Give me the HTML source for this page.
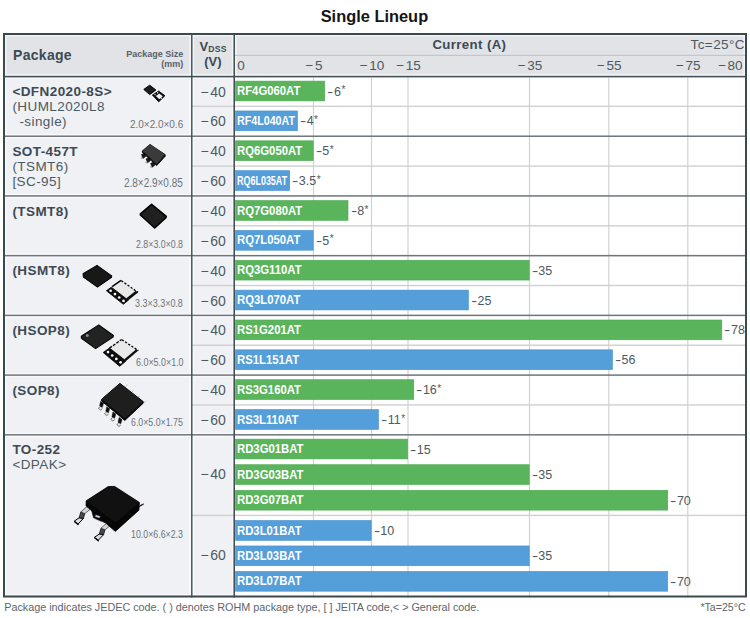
<!DOCTYPE html>
<html><head><meta charset="utf-8"><style>
html,body{margin:0;padding:0;background:#fff;}
body{width:750px;height:618px;position:relative;overflow:hidden;font-family:"Liberation Sans",Arial,sans-serif;}
body>div{position:absolute;}
.t{white-space:nowrap;}
.hy{display:inline-block;transform:scaleX(1.5);margin:0 1.4px 0 1.1px;}
.ast{font-size:10px;position:relative;top:-2.4px;margin-left:0.5px;}
svg{position:absolute;}
</style></head><body>
<svg width="750" height="618" viewBox="0 0 750 618" style="left:0;top:0;">
<rect x="3.00" y="33.00" width="744.00" height="43.50" fill="#e1e3e6" />
<rect x="3.00" y="76.50" width="231.20" height="521.00" fill="#f0f1f4" />
<rect x="234.20" y="76.50" width="512.80" height="521.00" fill="#ffffff" />
<rect x="5.00" y="35.00" width="740.00" height="1.40" fill="rgba(255,255,255,0.6)" />
<rect x="5.00" y="35.00" width="1.60" height="560.50" fill="rgba(255,255,255,0.6)" />
<rect x="743.40" y="35.00" width="1.60" height="41.50" fill="rgba(255,255,255,0.6)" />
<rect x="5.00" y="74.10" width="740.00" height="4.80" fill="rgba(255,255,255,0.6)" />
<rect x="189.40" y="35.00" width="4.80" height="560.50" fill="rgba(255,255,255,0.6)" />
<rect x="231.80" y="35.00" width="4.80" height="560.50" fill="rgba(255,255,255,0.6)" />
<rect x="5.00" y="134.02" width="229.20" height="4.40" fill="rgba(255,255,255,0.6)" />
<rect x="5.00" y="193.74" width="229.20" height="4.40" fill="rgba(255,255,255,0.6)" />
<rect x="5.00" y="253.46" width="229.20" height="4.40" fill="rgba(255,255,255,0.6)" />
<rect x="5.00" y="313.18" width="229.20" height="4.40" fill="rgba(255,255,255,0.6)" />
<rect x="5.00" y="372.90" width="229.20" height="4.40" fill="rgba(255,255,255,0.6)" />
<rect x="5.00" y="432.62" width="229.20" height="4.40" fill="rgba(255,255,255,0.6)" />
<rect x="5.00" y="593.90" width="229.20" height="1.60" fill="rgba(255,255,255,0.6)" />
<rect x="234.20" y="54.80" width="512.80" height="1.20" fill="#c4c7ca" />
<rect x="312.90" y="77.50" width="1.20" height="520.00" fill="#d2d2d2" />
<rect x="370.90" y="77.50" width="1.20" height="520.00" fill="#d2d2d2" />
<rect x="407.40" y="77.50" width="1.20" height="520.00" fill="#d2d2d2" />
<rect x="528.90" y="77.50" width="1.20" height="520.00" fill="#d2d2d2" />
<rect x="608.20" y="77.50" width="1.20" height="520.00" fill="#d2d2d2" />
<rect x="687.20" y="77.50" width="1.20" height="520.00" fill="#d2d2d2" />
<rect x="191.80" y="105.66" width="555.20" height="1.40" fill="#d0d0d0" />
<rect x="191.80" y="165.38" width="555.20" height="1.40" fill="#d0d0d0" />
<rect x="191.80" y="225.10" width="555.20" height="1.40" fill="#d0d0d0" />
<rect x="191.80" y="284.82" width="555.20" height="1.40" fill="#d0d0d0" />
<rect x="191.80" y="344.54" width="555.20" height="1.40" fill="#d0d0d0" />
<rect x="191.80" y="404.26" width="555.20" height="1.40" fill="#d0d0d0" />
<rect x="191.80" y="514.70" width="555.20" height="1.40" fill="#d0d0d0" />
<rect x="3.00" y="135.47" width="744.00" height="1.50" fill="#6e767c" />
<rect x="3.00" y="195.19" width="744.00" height="1.50" fill="#6e767c" />
<rect x="3.00" y="254.91" width="744.00" height="1.50" fill="#6e767c" />
<rect x="3.00" y="314.63" width="744.00" height="1.50" fill="#6e767c" />
<rect x="3.00" y="374.35" width="744.00" height="1.50" fill="#6e767c" />
<rect x="3.00" y="434.07" width="744.00" height="1.50" fill="#6e767c" />
<rect x="3.00" y="75.80" width="744.00" height="1.60" fill="#46525a" />
<rect x="191.10" y="33.00" width="1.40" height="564.50" fill="#3a4a4e" />
<rect x="233.45" y="33.00" width="1.50" height="564.50" fill="#3a4a4e" />
<rect x="4" y="34" width="742" height="562.5" fill="none" stroke="#3a4a4e" stroke-width="2"/>
<rect x="235.50" y="81.10" width="89.30" height="19.80" fill="#5ab45c" stroke="#4ea851" stroke-width="0.6"/>
<rect x="235.50" y="110.96" width="62.00" height="19.80" fill="#549eda" stroke="#4790ce" stroke-width="0.6"/>
<rect x="235.50" y="140.82" width="77.70" height="19.80" fill="#5ab45c" stroke="#4ea851" stroke-width="0.6"/>
<rect x="235.50" y="170.68" width="54.15" height="19.80" fill="#549eda" stroke="#4790ce" stroke-width="0.6"/>
<rect x="235.50" y="200.54" width="112.50" height="19.80" fill="#5ab45c" stroke="#4ea851" stroke-width="0.6"/>
<rect x="235.50" y="230.40" width="77.70" height="19.80" fill="#549eda" stroke="#4790ce" stroke-width="0.6"/>
<rect x="235.50" y="260.26" width="293.70" height="19.80" fill="#5ab45c" stroke="#4ea851" stroke-width="0.6"/>
<rect x="235.50" y="290.12" width="232.95" height="19.80" fill="#549eda" stroke="#4790ce" stroke-width="0.6"/>
<rect x="235.50" y="319.98" width="486.32" height="19.80" fill="#5ab45c" stroke="#4ea851" stroke-width="0.6"/>
<rect x="235.50" y="349.84" width="376.95" height="19.80" fill="#549eda" stroke="#4790ce" stroke-width="0.6"/>
<rect x="235.50" y="379.70" width="178.28" height="19.80" fill="#5ab45c" stroke="#4ea851" stroke-width="0.6"/>
<rect x="235.50" y="409.56" width="143.00" height="19.80" fill="#549eda" stroke="#4790ce" stroke-width="0.6"/>
<rect x="235.50" y="439.12" width="172.20" height="19.80" fill="#5ab45c" stroke="#4ea851" stroke-width="0.6"/>
<rect x="235.50" y="464.72" width="293.70" height="19.80" fill="#5ab45c" stroke="#4ea851" stroke-width="0.6"/>
<rect x="235.50" y="490.32" width="432.25" height="19.80" fill="#5ab45c" stroke="#4ea851" stroke-width="0.6"/>
<rect x="235.50" y="520.50" width="135.70" height="19.80" fill="#549eda" stroke="#4790ce" stroke-width="0.6"/>
<rect x="235.50" y="545.95" width="293.70" height="19.80" fill="#549eda" stroke="#4790ce" stroke-width="0.6"/>
<rect x="235.50" y="571.40" width="432.25" height="19.80" fill="#549eda" stroke="#4790ce" stroke-width="0.6"/>
</svg>
<div class="t" style="top:84.19px;font-size:13.6px;line-height:13.6px;font-weight:700;color:#ffffff;left:237.39999999999998px;transform:scaleX(0.833);transform-origin:left center;">RF4G060AT</div>
<div class="t" style="top:85.52px;font-size:12.5px;line-height:12.5px;font-weight:400;color:#4d5962;left:327.3px;"><span class="hy">-</span>6<span class="ast">*</span></div>
<div class="t" style="top:114.05px;font-size:13.6px;line-height:13.6px;font-weight:700;color:#ffffff;left:237.39999999999998px;transform:scaleX(0.785790469648674);transform-origin:left center;">RF4L040AT</div>
<div class="t" style="top:115.38px;font-size:12.5px;line-height:12.5px;font-weight:400;color:#4d5962;left:300.0px;"><span class="hy">-</span>4<span class="ast">*</span></div>
<div class="t" style="top:84.58px;font-size:14px;line-height:14px;font-weight:400;color:#4d5962;left:13.199999999999989px;width:400px;text-align:center;">&minus;<span style="margin-left:1.6px">40</span></div>
<div class="t" style="top:114.44px;font-size:14px;line-height:14px;font-weight:400;color:#4d5962;left:13.199999999999989px;width:400px;text-align:center;">&minus;<span style="margin-left:1.6px">60</span></div>
<div class="t" style="top:143.91px;font-size:13.6px;line-height:13.6px;font-weight:700;color:#ffffff;left:237.39999999999998px;transform:scaleX(0.833);transform-origin:left center;">RQ6G050AT</div>
<div class="t" style="top:145.24px;font-size:12.5px;line-height:12.5px;font-weight:400;color:#4d5962;left:315.7px;"><span class="hy">-</span>5<span class="ast">*</span></div>
<div class="t" style="top:173.77px;font-size:13.6px;line-height:13.6px;font-weight:700;color:#ffffff;left:237.39999999999998px;transform:scaleX(0.6591571168020826);transform-origin:left center;">RQ6L035AT</div>
<div class="t" style="top:175.10px;font-size:12.5px;line-height:12.5px;font-weight:400;color:#4d5962;left:292.15px;"><span class="hy">-</span>3.5<span class="ast">*</span></div>
<div class="t" style="top:144.30px;font-size:14px;line-height:14px;font-weight:400;color:#4d5962;left:13.199999999999989px;width:400px;text-align:center;">&minus;<span style="margin-left:1.6px">40</span></div>
<div class="t" style="top:174.16px;font-size:14px;line-height:14px;font-weight:400;color:#4d5962;left:13.199999999999989px;width:400px;text-align:center;">&minus;<span style="margin-left:1.6px">60</span></div>
<div class="t" style="top:203.63px;font-size:13.6px;line-height:13.6px;font-weight:700;color:#ffffff;left:237.39999999999998px;transform:scaleX(0.833);transform-origin:left center;">RQ7G080AT</div>
<div class="t" style="top:204.96px;font-size:12.5px;line-height:12.5px;font-weight:400;color:#4d5962;left:350.5px;"><span class="hy">-</span>8<span class="ast">*</span></div>
<div class="t" style="top:233.49px;font-size:13.6px;line-height:13.6px;font-weight:700;color:#ffffff;left:237.39999999999998px;transform:scaleX(0.833);transform-origin:left center;">RQ7L050AT</div>
<div class="t" style="top:234.82px;font-size:12.5px;line-height:12.5px;font-weight:400;color:#4d5962;left:315.7px;"><span class="hy">-</span>5<span class="ast">*</span></div>
<div class="t" style="top:204.02px;font-size:14px;line-height:14px;font-weight:400;color:#4d5962;left:13.199999999999989px;width:400px;text-align:center;">&minus;<span style="margin-left:1.6px">40</span></div>
<div class="t" style="top:233.88px;font-size:14px;line-height:14px;font-weight:400;color:#4d5962;left:13.199999999999989px;width:400px;text-align:center;">&minus;<span style="margin-left:1.6px">60</span></div>
<div class="t" style="top:263.35px;font-size:13.6px;line-height:13.6px;font-weight:700;color:#ffffff;left:237.39999999999998px;transform:scaleX(0.833);transform-origin:left center;">RQ3G110AT</div>
<div class="t" style="top:264.68px;font-size:12.5px;line-height:12.5px;font-weight:400;color:#4d5962;left:531.7px;"><span class="hy">-</span>35</div>
<div class="t" style="top:293.21px;font-size:13.6px;line-height:13.6px;font-weight:700;color:#ffffff;left:237.39999999999998px;transform:scaleX(0.833);transform-origin:left center;">RQ3L070AT</div>
<div class="t" style="top:294.54px;font-size:12.5px;line-height:12.5px;font-weight:400;color:#4d5962;left:470.95px;"><span class="hy">-</span>25</div>
<div class="t" style="top:263.74px;font-size:14px;line-height:14px;font-weight:400;color:#4d5962;left:13.199999999999989px;width:400px;text-align:center;">&minus;<span style="margin-left:1.6px">40</span></div>
<div class="t" style="top:293.60px;font-size:14px;line-height:14px;font-weight:400;color:#4d5962;left:13.199999999999989px;width:400px;text-align:center;">&minus;<span style="margin-left:1.6px">60</span></div>
<div class="t" style="top:323.07px;font-size:13.6px;line-height:13.6px;font-weight:700;color:#ffffff;left:237.39999999999998px;transform:scaleX(0.8329999999999999);transform-origin:left center;">RS1G201AT</div>
<div class="t" style="top:324.40px;font-size:12.5px;line-height:12.5px;font-weight:400;color:#4d5962;left:724.32px;"><span class="hy">-</span>78</div>
<div class="t" style="top:352.93px;font-size:13.6px;line-height:13.6px;font-weight:700;color:#ffffff;left:237.39999999999998px;transform:scaleX(0.833);transform-origin:left center;">RS1L151AT</div>
<div class="t" style="top:354.26px;font-size:12.5px;line-height:12.5px;font-weight:400;color:#4d5962;left:614.95px;"><span class="hy">-</span>56</div>
<div class="t" style="top:323.46px;font-size:14px;line-height:14px;font-weight:400;color:#4d5962;left:13.199999999999989px;width:400px;text-align:center;">&minus;<span style="margin-left:1.6px">40</span></div>
<div class="t" style="top:353.32px;font-size:14px;line-height:14px;font-weight:400;color:#4d5962;left:13.199999999999989px;width:400px;text-align:center;">&minus;<span style="margin-left:1.6px">60</span></div>
<div class="t" style="top:382.79px;font-size:13.6px;line-height:13.6px;font-weight:700;color:#ffffff;left:237.39999999999998px;transform:scaleX(0.8329999999999999);transform-origin:left center;">RS3G160AT</div>
<div class="t" style="top:384.12px;font-size:12.5px;line-height:12.5px;font-weight:400;color:#4d5962;left:416.275px;"><span class="hy">-</span>16<span class="ast">*</span></div>
<div class="t" style="top:412.65px;font-size:13.6px;line-height:13.6px;font-weight:700;color:#ffffff;left:237.39999999999998px;transform:scaleX(0.833);transform-origin:left center;">RS3L110AT</div>
<div class="t" style="top:413.98px;font-size:12.5px;line-height:12.5px;font-weight:400;color:#4d5962;left:381.0px;"><span class="hy">-</span>11<span class="ast">*</span></div>
<div class="t" style="top:383.18px;font-size:14px;line-height:14px;font-weight:400;color:#4d5962;left:13.199999999999989px;width:400px;text-align:center;">&minus;<span style="margin-left:1.6px">40</span></div>
<div class="t" style="top:413.04px;font-size:14px;line-height:14px;font-weight:400;color:#4d5962;left:13.199999999999989px;width:400px;text-align:center;">&minus;<span style="margin-left:1.6px">60</span></div>
<div class="t" style="top:442.21px;font-size:13.6px;line-height:13.6px;font-weight:700;color:#ffffff;left:237.39999999999998px;transform:scaleX(0.833);transform-origin:left center;">RD3G01BAT</div>
<div class="t" style="top:443.54px;font-size:12.5px;line-height:12.5px;font-weight:400;color:#4d5962;left:410.2px;"><span class="hy">-</span>15</div>
<div class="t" style="top:467.81px;font-size:13.6px;line-height:13.6px;font-weight:700;color:#ffffff;left:237.39999999999998px;transform:scaleX(0.833);transform-origin:left center;">RD3G03BAT</div>
<div class="t" style="top:469.14px;font-size:12.5px;line-height:12.5px;font-weight:400;color:#4d5962;left:531.7px;"><span class="hy">-</span>35</div>
<div class="t" style="top:493.41px;font-size:13.6px;line-height:13.6px;font-weight:700;color:#ffffff;left:237.39999999999998px;transform:scaleX(0.833);transform-origin:left center;">RD3G07BAT</div>
<div class="t" style="top:494.74px;font-size:12.5px;line-height:12.5px;font-weight:400;color:#4d5962;left:670.25px;"><span class="hy">-</span>70</div>
<div class="t" style="top:523.59px;font-size:13.6px;line-height:13.6px;font-weight:700;color:#ffffff;left:237.39999999999998px;transform:scaleX(0.833);transform-origin:left center;">RD3L01BAT</div>
<div class="t" style="top:524.92px;font-size:12.5px;line-height:12.5px;font-weight:400;color:#4d5962;left:373.7px;"><span class="hy">-</span>10</div>
<div class="t" style="top:549.04px;font-size:13.6px;line-height:13.6px;font-weight:700;color:#ffffff;left:237.39999999999998px;transform:scaleX(0.833);transform-origin:left center;">RD3L03BAT</div>
<div class="t" style="top:550.37px;font-size:12.5px;line-height:12.5px;font-weight:400;color:#4d5962;left:531.7px;"><span class="hy">-</span>35</div>
<div class="t" style="top:574.49px;font-size:13.6px;line-height:13.6px;font-weight:700;color:#ffffff;left:237.39999999999998px;transform:scaleX(0.833);transform-origin:left center;">RD3L07BAT</div>
<div class="t" style="top:575.82px;font-size:12.5px;line-height:12.5px;font-weight:400;color:#4d5962;left:670.25px;"><span class="hy">-</span>70</div>
<div class="t" style="top:466.95px;font-size:14px;line-height:14px;font-weight:400;color:#4d5962;left:13.199999999999989px;width:400px;text-align:center;">&minus;<span style="margin-left:1.6px">40</span></div>
<div class="t" style="top:547.75px;font-size:14px;line-height:14px;font-weight:400;color:#4d5962;left:13.199999999999989px;width:400px;text-align:center;">&minus;<span style="margin-left:1.6px">60</span></div>
<div class="t" style="top:8.32px;font-size:16.4px;line-height:16.4px;font-weight:700;color:#151515;left:320.7px;">Single Lineup</div>
<div class="t" style="top:48.45px;font-size:14px;line-height:14px;font-weight:700;color:#3d4a54;letter-spacing:0.3px;left:13.0px;">Package</div>
<div class="t" style="top:49.88px;font-size:9px;line-height:9px;font-weight:700;color:#58626a;right:566.7px;">Package Size</div>
<div class="t" style="top:59.78px;font-size:9px;line-height:9px;font-weight:700;color:#58626a;right:566.7px;">(mm)</div>
<div class="t" style="left:199.5px;top:40.10px;font-size:13px;line-height:13px;font-weight:700;color:#3d4a54;">V<span style="font-size:8.6px;position:relative;top:1px;letter-spacing:0.3px">DSS</span></div>
<div class="t" style="top:55.40px;font-size:13px;line-height:13px;font-weight:700;color:#3d4a54;left:12.900000000000006px;width:400px;text-align:center;">(V)</div>
<div class="t" style="top:37.73px;font-size:13.2px;line-height:13.2px;font-weight:700;color:#3d4a54;letter-spacing:0.4px;left:432.4px;">Current (A)</div>
<div class="t" style="top:38.17px;font-size:13.5px;line-height:13.5px;font-weight:400;color:#4d5962;letter-spacing:0.4px;right:5.100000000000023px;">Tc=25°C</div>
<div class="t" style="top:58.77px;font-size:13.5px;line-height:13.5px;font-weight:400;color:#4d5962;left:237.3px;">0</div>
<div class="t" style="top:58.77px;font-size:13.5px;line-height:13.5px;font-weight:400;color:#4d5962;left:114.0px;width:400px;text-align:center;">&minus;<span style="margin-left:1.5px">5</span></div>
<div class="t" style="top:58.77px;font-size:13.5px;line-height:13.5px;font-weight:400;color:#4d5962;left:172.0px;width:400px;text-align:center;">&minus;<span style="margin-left:1.5px">10</span></div>
<div class="t" style="top:58.77px;font-size:13.5px;line-height:13.5px;font-weight:400;color:#4d5962;left:208.5px;width:400px;text-align:center;">&minus;<span style="margin-left:1.5px">15</span></div>
<div class="t" style="top:58.77px;font-size:13.5px;line-height:13.5px;font-weight:400;color:#4d5962;left:330.0px;width:400px;text-align:center;">&minus;<span style="margin-left:1.5px">35</span></div>
<div class="t" style="top:58.77px;font-size:13.5px;line-height:13.5px;font-weight:400;color:#4d5962;left:409.29999999999995px;width:400px;text-align:center;">&minus;<span style="margin-left:1.5px">55</span></div>
<div class="t" style="top:58.77px;font-size:13.5px;line-height:13.5px;font-weight:400;color:#4d5962;left:488.29999999999995px;width:400px;text-align:center;">&minus;<span style="margin-left:1.5px">75</span></div>
<div class="t" style="top:58.77px;font-size:13.5px;line-height:13.5px;font-weight:400;color:#4d5962;right:7.399999999999977px;">&minus;<span style="margin-left:1.5px">80</span></div>
<div class="t" style="top:85.07px;font-size:13.5px;line-height:13.5px;font-weight:700;color:#3d4a54;letter-spacing:0.42px;left:12.4px;">&lt;DFN2020-8S&gt;</div>
<div class="t" style="top:100.07px;font-size:13.5px;line-height:13.5px;font-weight:400;color:#4d5962;letter-spacing:0.42px;left:12.4px;">(HUML2020L8</div>
<div class="t" style="top:115.07px;font-size:13.5px;line-height:13.5px;font-weight:400;color:#4d5962;letter-spacing:0.42px;left:19.4px;">-single)</div>
<div class="t" style="top:144.79px;font-size:13.5px;line-height:13.5px;font-weight:700;color:#3d4a54;letter-spacing:0.42px;left:12.4px;">SOT-457T</div>
<div class="t" style="top:159.79px;font-size:13.5px;line-height:13.5px;font-weight:400;color:#4d5962;letter-spacing:0.42px;left:12.4px;">(TSMT6)</div>
<div class="t" style="top:174.79px;font-size:13.5px;line-height:13.5px;font-weight:400;color:#4d5962;letter-spacing:0.42px;left:12.4px;">[SC-95]</div>
<div class="t" style="top:204.51px;font-size:13.5px;line-height:13.5px;font-weight:700;color:#3d4a54;letter-spacing:0.42px;left:12.4px;">(TSMT8)</div>
<div class="t" style="top:264.23px;font-size:13.5px;line-height:13.5px;font-weight:700;color:#3d4a54;letter-spacing:0.42px;left:12.4px;">(HSMT8)</div>
<div class="t" style="top:323.95px;font-size:13.5px;line-height:13.5px;font-weight:700;color:#3d4a54;letter-spacing:0.42px;left:12.4px;">(HSOP8)</div>
<div class="t" style="top:383.67px;font-size:13.5px;line-height:13.5px;font-weight:700;color:#3d4a54;letter-spacing:0.42px;left:12.4px;">(SOP8)</div>
<div class="t" style="top:443.39px;font-size:13.5px;line-height:13.5px;font-weight:700;color:#3d4a54;letter-spacing:0.42px;left:12.4px;">TO-252</div>
<div class="t" style="top:458.39px;font-size:13.5px;line-height:13.5px;font-weight:400;color:#4d5962;letter-spacing:0.42px;left:12.4px;">&lt;DPAK&gt;</div>
<div class="t" style="top:117.90px;font-size:11.7px;line-height:11.7px;font-weight:400;color:#6b747b;left:130.20142993326976px;transform:scaleX(0.8522565243251614);transform-origin:left center;">2.0×2.0×0.6</div>
<div class="t" style="top:177.46px;font-size:12.1px;line-height:12.1px;font-weight:400;color:#6b747b;left:124.40129198966409px;transform:scaleX(0.8243107608858139);transform-origin:left center;">2.8×2.9×0.85</div>
<div class="t" style="top:238.59px;font-size:11px;line-height:11px;font-weight:400;color:#6b747b;left:136.25958055290752px;transform:scaleX(0.8007626310772167);transform-origin:left center;">2.8×3.0×0.8</div>
<div class="t" style="top:298.09px;font-size:11px;line-height:11px;font-weight:400;color:#6b747b;left:135.44148430066605px;transform:scaleX(0.8148084075771991);transform-origin:left center;">3.3×3.3×0.8</div>
<div class="t" style="top:357.26px;font-size:10.8px;line-height:10.8px;font-weight:400;color:#6b747b;left:135.65428571428572px;transform:scaleX(0.8253968253968255);transform-origin:left center;">6.0×5.0×1.0</div>
<div class="t" style="top:416.79px;font-size:11px;line-height:11px;font-weight:400;color:#6b747b;left:131.46072351421188px;transform:scaleX(0.7986845196147522);transform-origin:left center;">6.0×5.0×1.75</div>
<div class="t" style="top:529.41px;font-size:10.5px;line-height:10.5px;font-weight:400;color:#6b747b;left:131.0395328719723px;transform:scaleX(0.8386884165430879);transform-origin:left center;">10.0×6.6×2.3</div>
<div class="t" style="top:602.06px;font-size:10.8px;line-height:10.8px;font-weight:400;color:#5d666d;left:4.2px;">Package indicates JEDEC code. ( ) denotes ROHM package type, [ ] JEITA code,&lt; &gt; General code.</div>
<div class="t" style="top:602.23px;font-size:10.6px;line-height:10.6px;font-weight:400;color:#5d666d;right:4.399999999999977px;">*Ta=25°C</div>
<svg width="750" height="618" viewBox="0 0 750 618" style="left:0;top:0;">
<g stroke-linejoin="round">
<polygon points="149.70,85.20 155.90,90.00 149.70,94.60 143.80,89.40" fill="#1d1d1d" stroke="#000" stroke-width="1" stroke-linejoin="round"/>
<polygon points="152.40,95.00 158.70,101.80 164.90,95.70 158.70,91.10" fill="#0e0e0e" stroke="#000" stroke-width="0.9" stroke-linejoin="round"/>
<polygon points="155.86,95.90 159.31,99.34 162.73,96.16 159.31,93.39" fill="#f0f0f0" />
<circle cx="155.04" cy="94.57" r="0.7" fill="#e8e8e8"/>
<circle cx="157.68" cy="92.82" r="0.7" fill="#e8e8e8"/>
<circle cx="161.30" cy="98.29" r="0.7" fill="#e8e8e8"/>
<polygon points="141.40,154.60 144.40,153.00 145.80,156.40 143.00,158.40" fill="#1a1a1a" stroke="#000" stroke-width="0.5"/>
<polygon points="141.20,157.00 143.00,158.40 142.30,159.30 140.60,158.20" fill="#a0a0a0" />
<polygon points="146.00,159.00 149.00,157.40 150.40,160.80 147.60,162.80" fill="#1a1a1a" stroke="#000" stroke-width="0.5"/>
<polygon points="145.80,161.40 147.60,162.80 146.90,163.70 145.20,162.60" fill="#a0a0a0" />
<polygon points="150.60,163.40 153.60,161.80 155.00,165.20 152.20,167.20" fill="#1a1a1a" stroke="#000" stroke-width="0.5"/>
<polygon points="150.40,165.80 152.20,167.20 151.50,168.10 149.80,167.00" fill="#a0a0a0" />
<polygon points="150.00,144.40 165.20,154.60 165.20,156.20 156.70,165.60 142.30,152.30 142.30,150.90" fill="#0a0a0a" stroke="#000" stroke-width="0.8" stroke-linejoin="round"/>
<polygon points="150.00,144.60 164.80,154.60 156.70,164.20 142.60,150.90" fill="#3a3a3a" />
<polygon points="151.60,204.40 166.30,216.40 165.90,217.60 154.70,228.00 140.40,215.00 140.40,213.80" fill="#202020" stroke="#000" stroke-width="1.6" stroke-linejoin="round"/>
<polygon points="97.00,265.40 111.70,275.90 111.50,277.20 97.50,287.10 83.40,277.00 83.10,273.70" fill="#181818" stroke="#000" stroke-width="1.1" stroke-linejoin="round"/>
<circle cx="85.30" cy="279.60" r="0.55" fill="#f0f0f0"/>
<circle cx="89.00" cy="282.35" r="0.55" fill="#f0f0f0"/>
<circle cx="92.70" cy="285.10" r="0.55" fill="#f0f0f0"/>
<circle cx="96.40" cy="287.85" r="0.55" fill="#f0f0f0"/>
<polygon points="106.40,290.70 123.30,304.30 138.00,292.40 121.00,280.40" fill="#e9e9e9" />
<polygon points="106.40,290.70 123.30,304.30 128.30,300.25 111.36,287.20" fill="#0d0d0d" stroke="#000" stroke-width="0.8" stroke-linejoin="round"/>
<polygon points="126.10,298.56 128.30,300.25 138.00,292.40 135.79,290.84" fill="#0d0d0d" />
<line x1="121.34" y1="280.64" x2="138.00" y2="292.40" stroke="#000" stroke-width="1.3" stroke-dasharray="2.2 1.6"/>
<line x1="112.09" y1="286.68" x2="121.00" y2="280.40" stroke="#000" stroke-width="1.4" />
<circle cx="110.66" cy="290.73" r="1.35" fill="#fafafa"/>
<circle cx="114.95" cy="294.11" r="1.35" fill="#fafafa"/>
<circle cx="119.23" cy="297.49" r="1.35" fill="#fafafa"/>
<circle cx="123.52" cy="300.88" r="1.35" fill="#fafafa"/>
<polygon points="98.80,324.90 113.40,335.50 113.10,337.10 95.60,348.60 81.50,338.40 81.30,336.30" fill="#222" stroke="#000" stroke-width="1.1" stroke-linejoin="round"/>
<circle cx="87.3" cy="335.5" r="1.5" fill="#8a8a8a"/>
<polygon points="103.20,352.50 119.70,366.30 138.30,350.60 121.60,339.50" fill="#e9e9e9" />
<polygon points="103.20,352.50 119.70,366.30 126.02,360.96 109.46,348.08" fill="#0d0d0d" stroke="#000" stroke-width="0.8" stroke-linejoin="round"/>
<polygon points="124.04,359.42 126.02,360.96 138.30,350.60 136.30,349.27" fill="#0d0d0d" />
<line x1="121.93" y1="339.72" x2="138.30" y2="350.60" stroke="#000" stroke-width="1.3" stroke-dasharray="2.2 1.6"/>
<line x1="109.46" y1="348.08" x2="121.60" y2="339.50" stroke="#000" stroke-width="1.3" stroke-dasharray="3 1.2"/>
<circle cx="108.00" cy="352.12" r="1.35" fill="#fafafa"/>
<circle cx="112.19" cy="355.51" r="1.35" fill="#fafafa"/>
<circle cx="116.37" cy="358.90" r="1.35" fill="#fafafa"/>
<circle cx="120.56" cy="362.29" r="1.35" fill="#fafafa"/>
<polyline points="101.40,405.20 98.40,408.40 100.60,410.20 102.40,408.60" fill="#e4e4e4" stroke="#6a6a6a" stroke-width="0.9" stroke-linejoin="round"/>
<polygon points="100.60,401.20 103.60,403.20 102.30,407.40 99.60,405.80" fill="#111" stroke="#000" stroke-width="0.4"/>
<line x1="125.60" y1="386.60" x2="127.40" y2="384.80" stroke="#a9a9a9" stroke-width="0.8" />
<polyline points="107.55,410.65 104.55,413.85 106.75,415.65 108.55,414.05" fill="#e4e4e4" stroke="#6a6a6a" stroke-width="0.9" stroke-linejoin="round"/>
<polygon points="106.75,406.65 109.75,408.65 108.45,412.85 105.75,411.25" fill="#111" stroke="#000" stroke-width="0.4"/>
<line x1="131.75" y1="392.05" x2="133.55" y2="390.25" stroke="#a9a9a9" stroke-width="0.8" />
<polyline points="113.70,416.10 110.70,419.30 112.90,421.10 114.70,419.50" fill="#e4e4e4" stroke="#6a6a6a" stroke-width="0.9" stroke-linejoin="round"/>
<polygon points="112.90,412.10 115.90,414.10 114.60,418.30 111.90,416.70" fill="#111" stroke="#000" stroke-width="0.4"/>
<line x1="137.90" y1="397.50" x2="139.70" y2="395.70" stroke="#a9a9a9" stroke-width="0.8" />
<polyline points="119.85,421.55 116.85,424.75 119.05,426.55 120.85,424.95" fill="#e4e4e4" stroke="#6a6a6a" stroke-width="0.9" stroke-linejoin="round"/>
<polygon points="119.05,417.55 122.05,419.55 120.75,423.75 118.05,422.15" fill="#111" stroke="#000" stroke-width="0.4"/>
<line x1="144.05" y1="402.95" x2="145.85" y2="401.15" stroke="#a9a9a9" stroke-width="0.8" />
<polygon points="119.90,383.40 143.20,401.60 143.20,403.20 124.80,420.40 101.60,400.90 101.60,399.30" fill="#0a0a0a" stroke="#000" stroke-width="1" stroke-linejoin="round"/>
<polygon points="119.90,383.60 142.80,401.60 124.80,418.60 102.00,399.30" fill="#1e1e1e" />
<polygon points="74.30,521.10 79.10,517.80 83.40,518.40 78.00,524.10" fill="#dcdcdc" stroke="#000" stroke-width="1" stroke-linejoin="round"/>
<line x1="74.60" y1="521.80" x2="78.20" y2="524.60" stroke="#000" stroke-width="1.3" stroke-linecap="round"/>
<polygon points="80.80,512.00 84.80,513.60 83.40,518.40 79.10,517.80" fill="#4a4a4a" stroke="#000" stroke-width="0.7" stroke-linejoin="round"/>
<polygon points="86.70,506.70 91.00,508.70 84.80,513.60 80.80,512.00" fill="#d4d4d4" stroke="#111" stroke-width="0.6" stroke-linejoin="round"/>
<polygon points="94.50,537.30 99.30,534.00 103.60,534.60 98.20,540.30" fill="#dcdcdc" stroke="#000" stroke-width="1" stroke-linejoin="round"/>
<line x1="94.80" y1="538.00" x2="98.40" y2="540.80" stroke="#000" stroke-width="1.3" stroke-linecap="round"/>
<polygon points="101.00,528.20 105.00,529.80 103.60,534.60 99.30,534.00" fill="#4a4a4a" stroke="#000" stroke-width="0.7" stroke-linejoin="round"/>
<polygon points="106.90,522.90 111.20,524.90 105.00,529.80 101.00,528.20" fill="#d4d4d4" stroke="#111" stroke-width="0.6" stroke-linejoin="round"/>
<polygon points="86.20,500.80 108.20,486.60 114.60,486.40 139.40,502.40 138.90,510.20 115.30,531.40 86.00,505.80" fill="#060606" stroke="#000" stroke-width="0.8" stroke-linejoin="round"/>
<polygon points="86.60,500.80 108.20,486.90 114.60,486.70 139.00,502.60 115.60,522.80" fill="#111111" />
<polygon points="139.20,505.40 143.60,503.20 143.80,504.60 139.20,507.20" fill="#222" />
<polygon points="91.60,510.40 104.60,519.40 105.00,522.60 99.60,520.60 93.60,517.80" fill="#080808" stroke="#000" stroke-width="0.6" stroke-linejoin="round"/>
<polygon points="95.60,514.60 100.50,516.30 99.50,518.30 94.80,516.80" fill="#dedede" stroke="#111" stroke-width="0.6" stroke-linejoin="round"/>
</g></svg>
</body></html>
